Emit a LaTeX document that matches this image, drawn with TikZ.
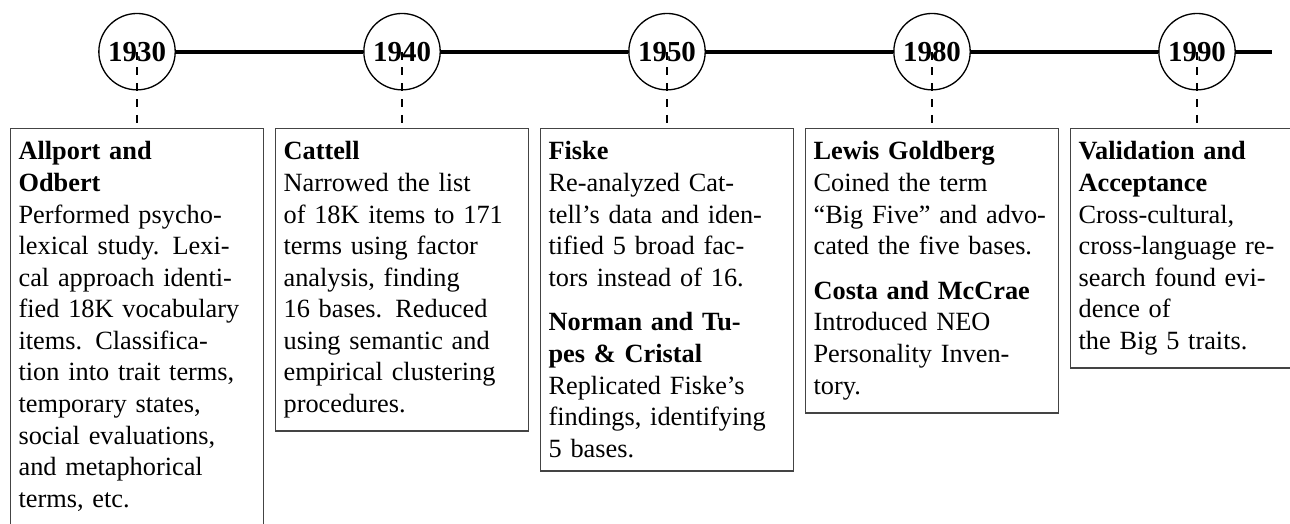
\documentclass[tikz,border=0pt]{standalone}
\usepackage{fontspec}
\setmainfont{Liberation Serif}
\usepackage{tikz}
\usetikzlibrary{positioning}
\definecolor{boxgray}{HTML}{444444}

\begin{document}
\begin{tikzpicture}[
  yearnode/.style={circle, draw, line width=0.5pt, minimum size=1.02cm,
    inner sep=0pt, font=\fontsize{11pt}{12pt}\selectfont\bfseries},
  eventbox/.style={draw=boxgray, line width=0.6pt, anchor=north,
    text width=90pt, inner xsep=3pt, inner ysep=5pt, align=left,
    font=\fontsize{10pt}{12pt}\selectfont},
  timeline/.style={line width=1.5pt},
  guide/.style={dashed, line width=0.5pt}
]

  % ---- Frame ----
  \useasboundingbox (0,0) rectangle (17.228,-6.985);
  \clip (0,0) rectangle (17.228,-6.985);

  % ============ YEARS ============
  \node[yearnode] (y1930) at (1.830,-0.690) {1930};
  \node[yearnode] (y1940) at (5.369,-0.690) {1940};
  \node[yearnode] (y1950) at (8.908,-0.690) {1950};
  \node[yearnode] (y1980) at (12.447,-0.690) {1980};
  \node[yearnode] (y1990) at (15.986,-0.690) {1990};
  \coordinate (lineend) at (16.984,-0.690);

  % Time line
  \draw[timeline] (y1930.east) -- (y1940.west);
  \draw[timeline] (y1940.east) -- (y1950.west);
  \draw[timeline] (y1950.east) -- (y1980.west);
  \draw[timeline] (y1980.east) -- (y1990.west);
  \draw[timeline] (y1990.east) -- (lineend);

  % ============ EVENTS ============
  \node[eventbox] (b1930) at (1.830,-1.705)
    {\textbf{Allport and}\\\textbf{Odbert}\\
     Performed psycho-\\lexical study. Lexi-\\cal approach identi-\\
     fied 18K vocabulary\\items. Classifica-\\tion into trait terms,\\
     temporary states,\\social evaluations,\\and metaphorical\\terms, etc.};

  \node[eventbox] (b1940) at (5.369,-1.705)
    {\textbf{Cattell}\\
     Narrowed the list\\of 18K items to 171\\terms using factor\\
     analysis, finding\\16 bases. Reduced\\using semantic and\\
     empirical clustering\\procedures.};

  \node[eventbox] (b1950) at (8.908,-1.705)
    {\textbf{Fiske}\\
     Re-analyzed Cat-\\tell’s data and iden-\\tified 5 broad fac-\\
     tors instead of 16.\\[5pt]
     \textbf{Norman and Tu-}\\\textbf{pes \& Cristal}\\
     Replicated Fiske’s\\findings, identifying\\5 bases.};

  \node[eventbox] (b1980) at (12.447,-1.705)
    {\textbf{Lewis Goldberg}\\
     Coined the term\\“Big Five” and advo-\\cated the five bases.\\[5pt]
     \textbf{Costa and McCrae}\\
     Introduced NEO\\Personality Inven-\\tory.};

  \node[eventbox] (b1990) at (15.986,-1.705)
    {\textbf{Validation and}\\\textbf{Acceptance}\\
     Cross-cultural,\\cross-language re-\\search found evi-\\
     dence of\\the Big 5 traits.};

  % ---- Guides ----
  \draw[guide] (y1930.center) -- (b1930.north);
  \draw[guide] (y1940.center) -- (b1940.north);
  \draw[guide] (y1950.center) -- (b1950.north);
  \draw[guide] (y1980.center) -- (b1980.north);
  \draw[guide] (y1990.center) -- (b1990.north);

\end{tikzpicture}
\end{document}
